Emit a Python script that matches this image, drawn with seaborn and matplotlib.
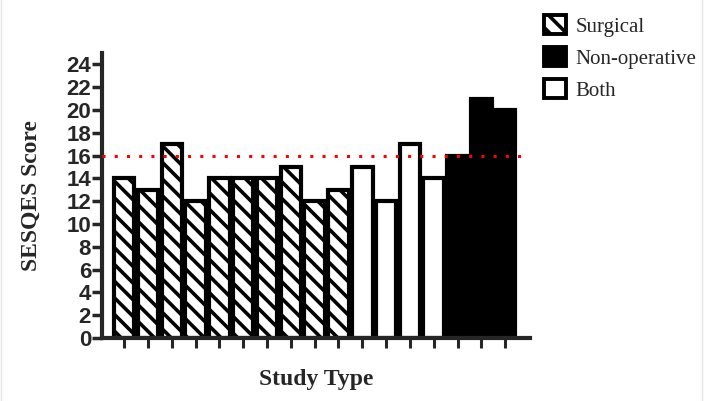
import matplotlib
matplotlib.use("Agg")
import matplotlib.pyplot as plt
import matplotlib.patches as mpatches
from matplotlib.lines import Line2D
import pandas as pd
import seaborn as sns

# SESQES scores per study, grouped by study type
surgical = [14, 13, 17, 12, 14, 14, 14, 15, 12, 13]
both = [15, 12, 17, 14]
non_operative = [16, 21, 20]
threshold = 16
types = ["Surgical", "Both", "Non-operative"]

scores = surgical + both + non_operative
labels = ["Surgical"] * len(surgical) + ["Both"] * len(both) + ["Non-operative"] * len(non_operative)
df = pd.DataFrame({"study": range(len(scores)), "score": scores, "type": labels})

sns.set_style("ticks")
plt.rcParams["hatch.linewidth"] = 2.6
SERIF = ["Liberation Serif", "DejaVu Serif"]
SANS = ["Liberation Sans", "DejaVu Sans"]

fig = plt.figure(figsize=(7.05, 4.01), dpi=100)
ax = fig.add_axes([0.145, 0.157, 0.607, 0.711])

sns.barplot(data=df, x="study", y="score", hue="type", hue_order=types,
            palette={"Surgical": "white", "Both": "white", "Non-operative": "black"},
            dodge=False, width=0.86, edgecolor="black", linewidth=3.0,
            legend=False, ax=ax)

for lvl, cont in zip(types, ax.containers):
    if lvl == "Surgical":
        for bar in cont:
            bar.set_hatch("\\\\")

ax.axhline(threshold, color="red", linestyle=(0, (1, 3)), linewidth=2.2, zorder=5)

ax.set_xlim(-0.92, len(scores) - 1 + 1.05)
ax.set_ylim(0, 25)
ax.set_yticks(range(0, 25, 2))
ax.set_xticklabels([])
for lab in ax.get_yticklabels():
    lab.set_fontfamily(SANS)
    lab.set_fontweight("bold")
    lab.set_fontsize(16)
ax.tick_params(axis="y", width=2.5, length=7, pad=1)
ax.tick_params(axis="x", width=2.2, length=7)
sns.despine(ax=ax)
for s in ["left", "bottom"]:
    ax.spines[s].set_linewidth(3.0)

ax.set_xlabel("Study Type", family=SERIF, fontweight="bold", fontsize=17, labelpad=12)
ax.set_ylabel("SESQES Score", family=SERIF, fontweight="bold", fontsize=17, labelpad=18)

handles = [
    mpatches.Patch(facecolor="white", edgecolor="black", hatch="\\\\", linewidth=2.8, label="Surgical"),
    mpatches.Patch(facecolor="black", edgecolor="black", linewidth=2.8, label="Non-operative"),
    mpatches.Patch(facecolor="white", edgecolor="black", linewidth=2.8, label="Both"),
]
fig.legend(handles=handles, loc="upper left", bbox_to_anchor=(0.745, 1.01),
           frameon=False, prop={"family": SERIF, "size": 15},
           handlelength=1.05, handleheight=1.05, handletextpad=0.45, labelspacing=0.5)

for xf in (0.002, 0.996):
    fig.add_artist(Line2D([xf, xf], [0, 1], transform=fig.transFigure, color="#e6e6e6", linewidth=1))

fig.savefig("out.png", dpi=100)
